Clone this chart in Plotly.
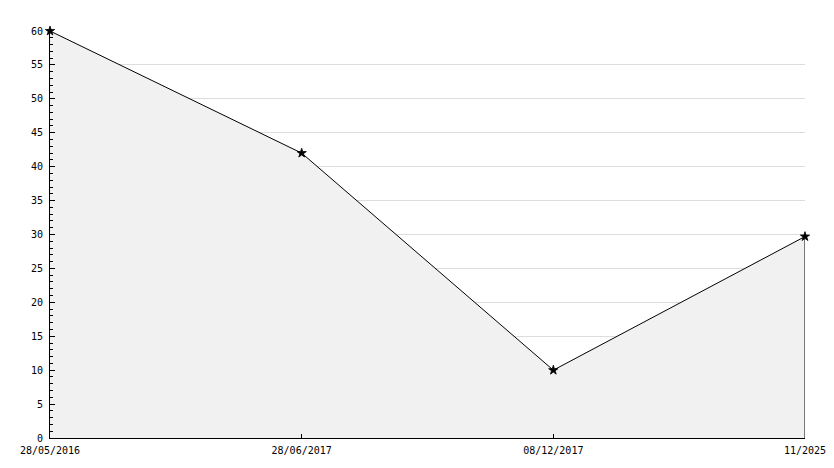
import plotly.graph_objects as go

categories = ["28/05/2016", "28/06/2017", "08/12/2017", "11/2025"]
values = [60, 42, 10, 29.7]
y_ticks = list(range(0, 61, 5))

xs = list(range(len(categories)))

fig = go.Figure()
fig.add_trace(go.Scatter(
    x=xs, y=values, mode="lines", fill="tozeroy",
    fillcolor="#f1f1f1",
    line=dict(color="black", width=1),
    hoverinfo="skip", showlegend=False,
))
# closing edge of the area at the last point
fig.add_trace(go.Scatter(
    x=[xs[-1], xs[-1]], y=[values[-1], 0], mode="lines",
    line=dict(color="black", width=1), hoverinfo="skip", showlegend=False,
))
fig.add_trace(go.Scatter(
    x=xs, y=values, mode="markers", cliponaxis=False,
    marker=dict(symbol="star", size=7, color="black", line=dict(width=0.8, color="black")),
    hoverinfo="skip", showlegend=False,
))

font = dict(family="DejaVu Sans Mono, monospace", size=10, color="black")
fig.update_layout(
    width=834, height=468,
    margin=dict(l=50, r=29, t=31, b=30, autoexpand=False),
    paper_bgcolor="white", plot_bgcolor="white",
    font=font,
    xaxis=dict(
        range=[0, len(categories) - 1],
        tickvals=xs, ticktext=categories,
        showgrid=False, zeroline=False, automargin=False,
        showline=True, linecolor="black", linewidth=1,
        ticks="inside", ticklen=4, tickcolor="black",
        tickfont=font,
        ticklabelstandoff=3,
    ),
    yaxis=dict(
        range=[0, 60],
        tickvals=y_ticks, automargin=False,
        showgrid=True, gridcolor="#dddddd", gridwidth=1,
        zeroline=False,
        showline=True, linecolor="black", linewidth=1,
        ticks="inside", ticklen=5, tickcolor="black",
        minor=dict(dtick=1, ticks="inside", ticklen=3, tickcolor="black", showgrid=False),
        tickfont=font,
        ticklabelstandoff=4,
    ),
)

fig.write_html(
    "out.html",
    config={"displayModeBar": False},
    post_script="document.body.style.margin='0';document.body.style.overflow='hidden';",
)
